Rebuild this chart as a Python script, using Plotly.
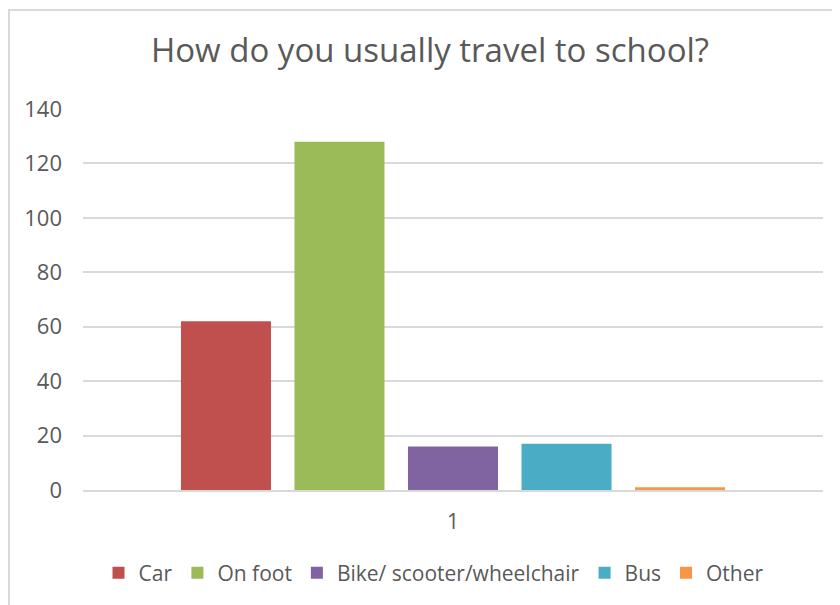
import plotly.graph_objects as go

categories = ["1"]
series_names = ["Car", "On foot", "Bike/ scooter/wheelchair", "Bus", "Other"]
series_values = [62, 128, 16, 17, 1]
series_colors = ["#C0504D", "#9BBB59", "#8064A2", "#4BACC6", "#F79646"]
y_ticks = [0, 20, 40, 60, 80, 100, 120, 140]

FONT = "Open Sans"
TXT = "#595959"
GRID = "#D9D9D9"

fig = go.Figure()
for name, val, col in zip(series_names, series_values, series_colors):
    fig.add_trace(go.Bar(x=categories, y=[val], name=name, marker_color=col,
                         marker_line_width=0))

# page has an 8px body margin; work in page coordinates and shift
OFF = 8
W, H = 840 - OFF, 605 - OFF
L, R, T, B = 83 - OFF, 840 - 823, 109 - OFF, 605 - 490
pw = W - L - R
ph = H - T - B

fig.update_layout(
    width=W, height=H,
    margin=dict(l=L, r=R, t=T, b=B, pad=0),
    paper_bgcolor="white", plot_bgcolor="white",
    barmode="group", bargap=0.233, bargroupgap=0.207,
    font=dict(family=FONT, color=TXT),
    title=dict(text="How do you usually travel to school?",
               x=(430 - OFF) / W, xanchor="center", xref="container",
               y=1 - (50 - OFF) / H, yanchor="middle", yref="container",
               font=dict(size=33, color=TXT, family=FONT)),
    legend=dict(orientation="h", x=(434 - OFF) / W, xanchor="center", xref="container",
                y=1 - (573 - OFF) / H, yanchor="middle", yref="container",
                font=dict(size=21, color=TXT, family=FONT),
                itemwidth=30, traceorder="normal"),
    xaxis=dict(type="category", showgrid=False, showline=True, linecolor=GRID,
               linewidth=1.5, ticks="", tickfont=dict(size=21, color=TXT),
               ticklabelstandoff=12, zeroline=False),
    yaxis=dict(range=[0, 140], tickvals=y_ticks, showgrid=True, gridcolor=GRID,
               gridwidth=1.5, showline=False, zeroline=False, ticks="",
               tickfont=dict(size=22, color=TXT), ticklabelstandoff=20),
    shapes=[dict(type="rect", xref="paper", yref="paper",
                 x0=(9 - 83) / pw, x1=(860 - 83) / pw,
                 y0=(490 - 630) / ph, y1=(490 - 10) / ph,
                 line=dict(color=GRID, width=2), fillcolor="rgba(0,0,0,0)",
                 layer="below")],
)

fig.write_html("out.html")
